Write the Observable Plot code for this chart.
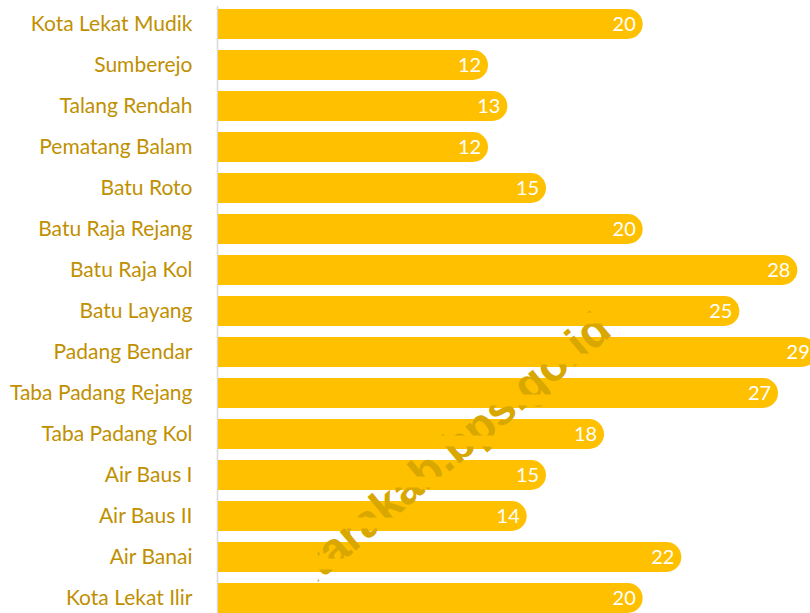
<!DOCTYPE html>
<html>
<head>
<meta charset="utf-8">
<script src="https://cdn.jsdelivr.net/npm/d3@7"></script>
<script src="https://cdn.jsdelivr.net/npm/@observablehq/plot@0.6"></script>
<style>
  html, body { margin: 0; padding: 0; background: #fff; }
  #chart { width: 810px; height: 613px; overflow: hidden; }
</style>
</head>
<body>
<div id="chart"></div>
<script>
const categories = [
  "Kota Lekat Mudik", "Sumberejo", "Talang Rendah", "Pematang Balam", "Batu Roto",
  "Batu Raja Rejang", "Batu Raja Kol", "Batu Layang", "Padang Bendar", "Taba Padang Rejang",
  "Taba Padang Kol", "Air Baus I", "Air Baus II", "Air Banai", "Kota Lekat Ilir"
];
const values = [20, 12, 13, 12, 15, 20, 28, 25, 29, 27, 18, 15, 14, 22, 20];
const watermark = "bengkuluutarakab.bps.go.id";

const data = categories.map((c, i) => ({category: c, value: values[i]}));
const barColor = "#FFC000";

const chart = Plot.plot({
  width: 810,
  height: 613,
  marginLeft: 218,
  marginRight: 0,
  marginTop: 0,
  marginBottom: 0,
  style: {fontFamily: "Lato, 'Open Sans', sans-serif", background: "#fff", overflow: "hidden"},
  x: {domain: [0, 30.62], axis: null},
  y: {domain: categories, range: [-2, 624], padding: 0.268, label: null,
      tickSize: 0, tickPadding: 26},
  marks: [
    Plot.ruleX([0], {stroke: "#D9D9D9", strokeWidth: 1.6, dx: -1, insetTop: 6}),
    Plot.barX(data, {y: "category", x1: 0, x2: "value", fill: barColor}),
    Plot.barX(data, {y: "category", x1: "value", x2: "value", fill: barColor,
                     insetLeft: -20, insetRight: -38, rx: 15}),
    Plot.text([watermark], {frameAnchor: "middle", text: d => d, rotate: -40,
                     dx: 99, dy: 27, textAnchor: "end", lineAnchor: "bottom", fill: "#D8A700",
                     fontSize: 46, fontWeight: "bold", fontFamily: "'Liberation Sans', Arial, sans-serif",
                     ariaDescription: "watermark"}),
    Plot.text(data, {y: "category", x: "value", text: d => String(d.value), dx: 19,
                     fill: "#fff", fontSize: 20, textAnchor: "middle"}),
    Plot.axisY({tickSize: 0, tickPadding: 26, fontSize: 21, color: "#BF9000", label: null})
  ]
});

document.getElementById("chart").appendChild(chart);

// Clip the watermark to the bars so it only shows where bars are drawn
const svg = d3.select(chart.tagName === "svg" ? chart : chart.querySelector("svg"));
const defs = svg.insert("defs", ":first-child");
const clip = defs.append("clipPath").attr("id", "bars-clip");
svg.selectAll("g[aria-label=bar] rect").each(function() {
  clip.node().appendChild(this.cloneNode(true));
});
svg.selectAll("g[aria-description=watermark]").attr("clip-path", "url(#bars-clip)");
svg.selectAll("g[aria-label='y-axis tick label'] text").attr("font-size", 21);
</script>
</body>
</html>
